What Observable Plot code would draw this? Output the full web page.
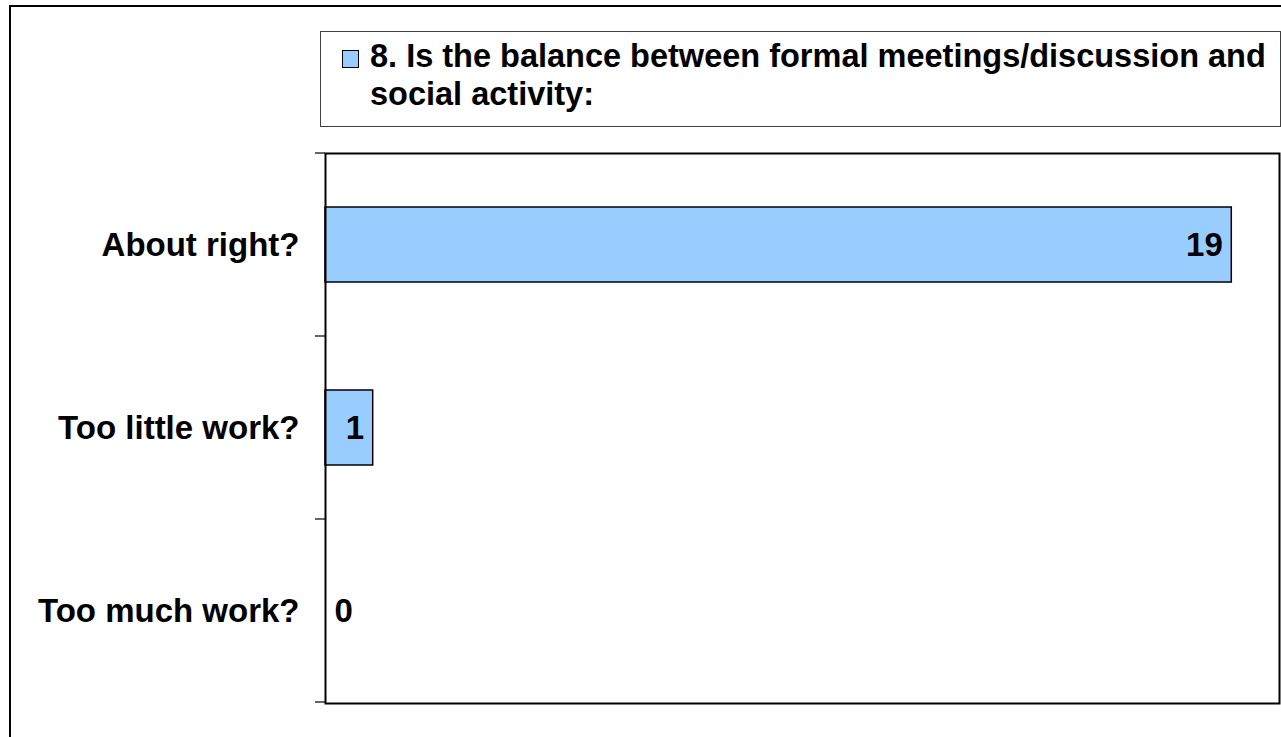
<!DOCTYPE html>
<html>
<head>
<meta charset="utf-8">
<script src="https://cdn.jsdelivr.net/npm/d3@7"></script>
<script src="https://cdn.jsdelivr.net/npm/@observablehq/plot@0.6"></script>
<style>
  html, body { margin: 0; padding: 0; background: #fff; overflow: hidden; }
  #wrap { position: relative; width: 1281px; height: 737px; font-family: "Liberation Sans", Arial, sans-serif; }
  #chart { position: absolute; left: 0; top: 0; }
  #frame { position: absolute; left: 9px; top: 5px; width: 1400px; height: 800px; border: 2.5px solid #000; box-sizing: border-box; pointer-events: none; }
  #legend { position: absolute; left: 320px; top: 31px; width: 961px; height: 96px; border: 1px solid #404040; box-sizing: border-box; background: #fff; }
  #legend .swatch { position: absolute; left: 21px; top: 18px; width: 17px; height: 18px; background: #99CCFF; border: 1.5px solid #000; box-sizing: border-box; }
  #legend .label { position: absolute; left: 49px; top: 5px; font-size: 32.5px; font-weight: bold; line-height: 38px; color: #000; white-space: nowrap; }
</style>
</head>
<body>
<div id="wrap">
  <div id="chart"></div>
  <div id="legend"><div class="swatch"></div><div class="label" id="legendText"></div></div>
  <div id="frame"></div>
</div>
<script>
const categories = ["About right?", "Too little work?", "Too much work?"];
const counts = [19, 1, 0];
const seriesLines = ["8. Is the balance between formal meetings/discussion and", "social activity:"];
const xDomain = [0, 20];

const data = categories.map((c, i) => ({category: c, count: counts[i]}));

document.getElementById("legendText").innerHTML = seriesLines.join("<br>");

const fontStack = "'Liberation Sans', Arial, sans-serif";

function boundaryTicks(index, scales, values, dims) {
  const y = scales.y;
  const bw = typeof y.bandwidth === "function" ? y.bandwidth() : y.bandwidth;
  const step = y(categories[1]) - y(categories[0]);
  const gap = (step - bw) / 2;
  const ys = categories.map(c => y(c) - gap);
  ys.push(y(categories[categories.length - 1]) + bw + gap);
  const g = d3.create("svg:g");
  g.selectAll("line").data(ys).join("line")
    .attr("x1", dims.marginLeft - 10).attr("x2", dims.marginLeft)
    .attr("y1", d => d).attr("y2", d => d)
    .attr("stroke", "#000").attr("stroke-width", 1.2);
  return g.node();
}

const chart = Plot.plot({
  width: 1281,
  height: 737,
  marginLeft: 325,
  marginRight: 2,
  marginTop: 153,
  marginBottom: 34,
  style: {fontFamily: fontStack, fontSize: "33px", fontWeight: "bold", color: "#000", background: "transparent", overflow: "visible"},
  x: {domain: xDomain, axis: null},
  y: {domain: categories, paddingInner: 0.59, paddingOuter: 0.295, label: null},
  marks: [
    Plot.barX(data, {x: "count", y: "category", fill: "#99CCFF", stroke: "#000", strokeWidth: 1.5}),
    Plot.axisY({tickSize: 0, tickPadding: 26, label: null, fontSize: 33, fontWeight: "bold", fill: "#000"}),
    boundaryTicks,
    Plot.text(data.filter(d => d.count > 0), {x: "count", y: "category", text: d => String(d.count), textAnchor: "end", dx: -9, fontSize: 33, fontWeight: "bold", fill: "#000"}),
    Plot.text(data.filter(d => d.count === 0), {x: "count", y: "category", text: d => String(d.count), textAnchor: "start", dx: 9, fontSize: 33, fontWeight: "bold", fill: "#000"}),
    Plot.frame({stroke: "#000", strokeWidth: 2})
  ]
});
document.getElementById("chart").appendChild(chart);
</script>
</body>
</html>
